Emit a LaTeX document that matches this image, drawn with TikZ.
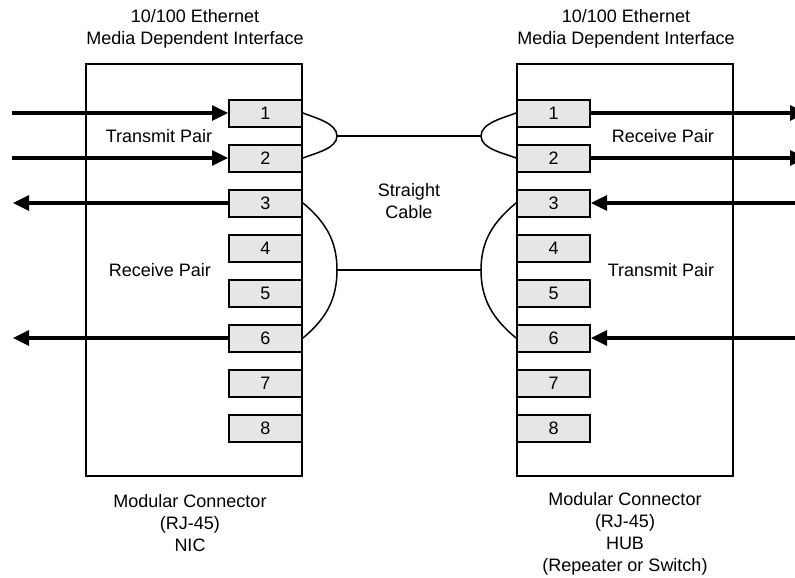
\documentclass[tikz,border=0pt]{standalone}
\usepackage{fontspec}
\setmainfont{Liberation Sans}
\usetikzlibrary{arrows.meta}
\definecolor{pinfill}{HTML}{E6E6E6}
\begin{document}
\begin{tikzpicture}[x=1pt,y=-1pt,
  txt/.style={font=\fontsize{18}{22}\selectfont, align=center, inner sep=0pt},
  conbox/.style={draw, line width=2pt, minimum width=216pt, minimum height=412pt, inner sep=0pt},
  pinbox/.style={draw, line width=2pt, fill=pinfill, minimum width=73pt, minimum height=27pt, inner sep=0pt, font=\fontsize{18}{22}\selectfont},
  arr/.style={line width=3.2pt, -{Triangle[length=16pt,width=15pt]}},
  wire/.style={line width=1.5pt}]
\useasboundingbox (0,0) rectangle (795,578);
% boxes
\node[conbox] (LB) at (194,270) {};
\node[conbox] (RB) at (625,270) {};
% pins
\foreach \i/\y in {1/113,2/158,3/203,4/248,5/293,6/338,7/383,8/428}{
  \node[pinbox] (L\i) at (265.5,\y) {\i};
  \node[pinbox] (R\i) at (553.5,\y) {\i};
}
% coordinates
\coordinate (La) at (337,136);
\coordinate (Lb) at (337,270);
\coordinate (Ra) at (481,136);
\coordinate (Rb) at (481,270);
\coordinate (Lin1) at (12,113);
\coordinate (Lin2) at (12,158);
\coordinate (Lout3) at (13,203);
\coordinate (Lout6) at (13,338);
\coordinate (Rout1) at (806,113);
\coordinate (Rout2) at (806,158);
\coordinate (Rin3) at (797,203);
\coordinate (Rin6) at (797,338);
% pair wires
\draw[wire] (L1.east) to[out=-22,in=90,looseness=0.8] (La) to[out=-90,in=22,looseness=0.8] (L2.east);
\draw[wire] (L3.east) to[out=-40,in=90] (Lb) to[out=-90,in=40] (L6.east);
\draw[wire] (R1.west) to[out=202,in=90,looseness=0.8] (Ra) to[out=-90,in=158,looseness=0.8] (R2.west);
\draw[wire] (R3.west) to[out=220,in=90] (Rb) to[out=-90,in=140] (R6.west);
\draw[wire] (La) -- (Ra);
\draw[wire] (Lb) -- (Rb);
% arrows
\draw[arr] (Lin1) -- (L1.west);
\draw[arr] (Lin2) -- (L2.west);
\draw[arr] (L3.west) -- (Lout3);
\draw[arr] (L6.west) -- (Lout6);
\draw[arr] (R1.east) -- (Rout1);
\draw[arr] (R2.east) -- (Rout2);
\draw[arr] (Rin3) -- (R3.east);
\draw[arr] (Rin6) -- (R6.east);
% labels
\node[txt] (tl) at (195,29) {10/100 Ethernet\\Media Dependent Interface};
\node[txt] (tr) at (626,29) {10/100 Ethernet\\Media Dependent Interface};
\node[txt] (ltp) at (159,136) {Transmit Pair};
\node[txt] (lrp) at (160,270) {Receive Pair};
\node[txt] (rrp) at (663,136) {Receive Pair};
\node[txt] (rtp) at (661,270) {Transmit Pair};
\node[txt] (sc) at (409,201) {Straight\\Cable};
\node[txt] (bl) at (190,523) {Modular Connector\\(RJ-45)\\NIC};
\node[txt] (br) at (625,534) {Modular Connector\\(RJ-45)\\HUB\\(Repeater or Switch)};
\end{tikzpicture}
\end{document}
